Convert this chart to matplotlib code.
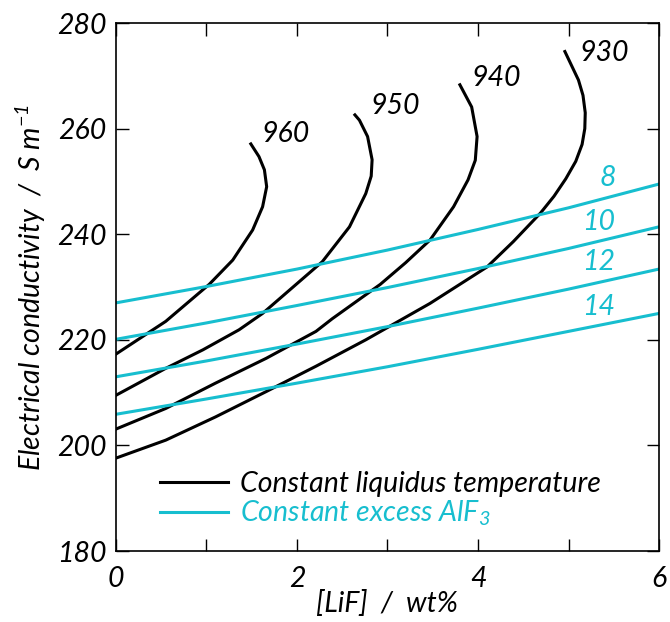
import matplotlib
matplotlib.use("Agg")
import matplotlib.pyplot as plt
from matplotlib.ticker import MultipleLocator

matplotlib.rcParams.update({
    "font.family": "Lato",
    "font.style": "italic",
    "font.size": 20.5,
    "mathtext.fontset": "custom",
    "mathtext.rm": "Lato:italic",
    "mathtext.it": "Lato:italic",
    "axes.linewidth": 1.2,
})

# --- isotherms (constant liquidus temperature, deg C) ---
t960_x = [0.0, 0.55, 1.03, 1.29, 1.51, 1.62, 1.665, 1.64, 1.58, 1.49]
t960_y = [217.3, 223.5, 230.5, 235.1, 240.8, 245.2, 249.0, 252.2, 254.7, 257.1]

t950_x = [0.0, 0.55, 0.96, 1.36, 1.62, 2.28, 2.58, 2.76, 2.82, 2.83, 2.78, 2.69, 2.64]
t950_y = [209.5, 214.6, 218.1, 221.9, 225.0, 234.8, 241.4, 247.7, 251.0, 254.1, 258.5, 261.6, 262.6]

t940_x = [0.0, 0.55, 1.10, 1.66, 2.21, 2.39, 2.92, 3.20, 3.47, 3.73, 3.89, 3.97, 3.99, 3.93, 3.80]
t940_y = [203.1, 207.0, 211.8, 216.5, 221.6, 224.0, 230.5, 234.6, 238.9, 245.2, 250.3, 254.0, 258.5, 264.1, 268.3]

t930_x = [0.0, 0.55, 1.10, 1.66, 2.21, 2.76, 3.47, 4.10, 4.39, 4.69, 4.84, 4.97, 5.08,
          5.15, 5.18, 5.185, 5.16, 5.11, 4.96]
t930_y = [197.6, 201.0, 205.4, 210.2, 215.0, 220.0, 226.9, 233.8, 238.6, 244.0, 247.2, 250.5, 253.8,
          257.0, 260.0, 263.0, 266.3, 269.2, 274.6]

# --- constant excess AlF3 (wt%) ---
lif = [0, 1, 2, 3, 4, 5, 6]
alf8 = [227.0, 230.1, 233.4, 237.0, 240.9, 245.0, 249.5]
alf10 = [220.1, 223.2, 226.5, 229.9, 233.5, 237.3, 241.4]
alf12 = [213.0, 216.0, 219.2, 222.5, 226.0, 229.6, 233.4]
alf14 = [205.9, 208.8, 211.8, 214.9, 218.2, 221.6, 225.0]

iso_labels = ["960", "950", "940", "930"]
iso_label_pos = [(1.61, 259.0), (2.81, 264.3), (3.93, 269.6), (5.12, 274.4)]
alf_labels = ["8", "10", "12", "14"]
alf_label_y = [250.6, 242.3, 234.7, 226.2]

BLACK = "black"
CYAN = "#17becf"

fig = plt.figure(figsize=(6.7, 6.22), dpi=100)
ax = fig.add_axes([0.1731, 0.1141, 0.8105, 0.8489])

isos = [(t960_x, t960_y), (t950_x, t950_y), (t940_x, t940_y), (t930_x, t930_y)]
for i, (xs, ys) in enumerate(isos):
    ax.plot(xs, ys, color=BLACK, lw=2.2, solid_joinstyle="round",
            label="Constant liquidus temperature" if i == 0 else None)

for i, ys in enumerate([alf8, alf10, alf12, alf14]):
    ax.plot(lif, ys, color=CYAN, lw=2.2,
            label="Constant excess AlF$_\\mathrm{3}$" if i == 0 else None)

for lab, (x, y) in zip(iso_labels, iso_label_pos):
    ax.text(x, y, lab, ha="left", va="center", color=BLACK)
for lab, y in zip(alf_labels, alf_label_y):
    ax.text(5.52, y, lab, ha="right", va="center", color=CYAN)

ax.set_xlim(0, 6)
ax.set_ylim(180, 280)
ax.xaxis.set_major_locator(MultipleLocator(1))
ax.yaxis.set_major_locator(MultipleLocator(20))
ax.set_xticklabels(["" if int(round(v)) % 2 else str(int(round(v)))
                    for v in ax.get_xticks()])
ax.tick_params(direction="in", top=True, right=True, length=9, width=1.0)
ax.tick_params(axis="x", pad=11)
ax.tick_params(axis="y", pad=7)

ax.set_xlabel("[LiF]  /  wt%", labelpad=-2)
ax.set_ylabel("Electrical conductivity  /  S m$^{-1}$", labelpad=6)

leg = ax.legend(loc="lower left", bbox_to_anchor=(0.06, 0.022), frameon=False,
                handlelength=2.4, handletextpad=0.4, labelspacing=0.05,
                borderaxespad=0)
for txt, col in zip(leg.get_texts(), [BLACK, CYAN]):
    txt.set_color(col)

fig.savefig("out.png", dpi=100)
